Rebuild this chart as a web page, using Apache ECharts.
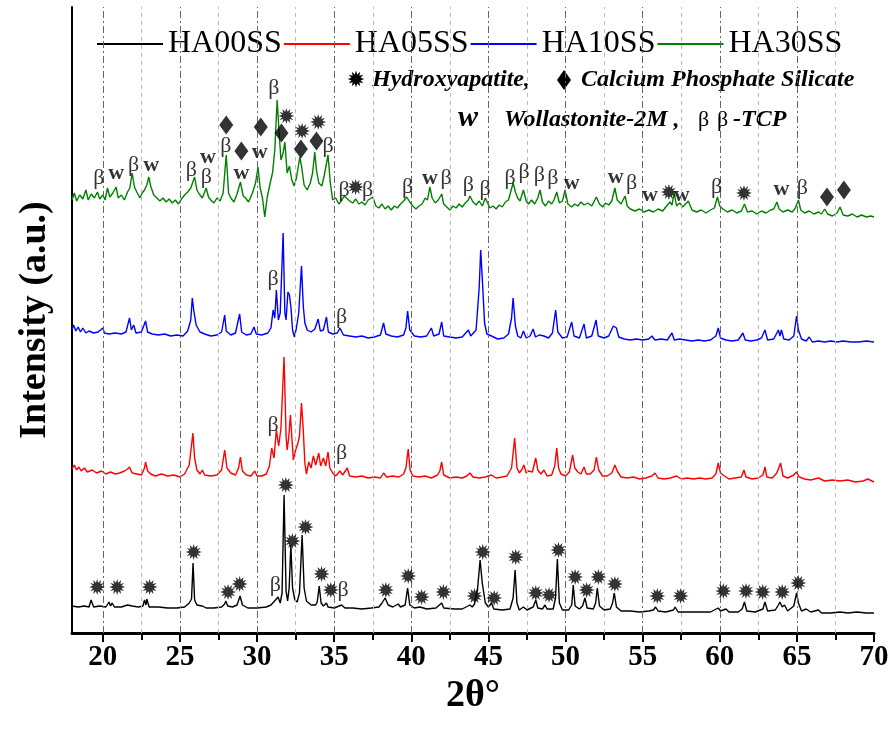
<!DOCTYPE html>
<html>
<head>
<meta charset="utf-8">
<script src="https://cdn.jsdelivr.net/npm/echarts@6.0.0/dist/echarts.min.js"></script>
<style>
  html, body { margin: 0; padding: 0; background: #fff; }
  #chart { width: 893px; height: 731px; }
</style>
</head>
<body>
<div id="chart"></div>
<script>
// XRD patterns, 2theta (deg) vs intensity (a.u.), each trace relative to its own baseline
var seriesNames = ['HA00SS', 'HA05SS', 'HA10SS', 'HA30SS'];
var seriesColors = ['#000000', '#ff0000', '#0000ff', '#008000'];
// vertical shift of each trace in the stacked plot
var offsets = [0, 135, 275, 405];

var ha00 = [
  [18.0,27],[18.4,26],[18.8,27],[19.1,26],[19.24,33],[19.4,26],[19.8,27],[20.2,26],[20.4,31],[20.5,27],[20.6,30],[20.75,26],
  [21.2,26],[21.6,28],[21.7,30],[21.9,27],[22.3,26],[22.6,27],[22.7,33],[22.8,28],[22.85,34],[23.0,26],[23.6,26],[24.2,25],
  [24.8,25],[25.3,26],[25.6,30],[25.75,34],[25.85,70],[25.95,33],[26.1,28],[26.45,27],[26.7,25],[27.2,25],[27.7,26],[27.9,29],
  [27.97,32],[28.1,27],[28.4,26],[28.7,28],[28.9,37],[29.05,28],[29.4,25],[30.0,25],[30.6,26],[30.9,28],[31.08,31],[31.2,29],
  [31.36,36],[31.5,30],[31.62,40],[31.75,138],[31.88,42],[31.98,32],[32.08,45],[32.19,88],[32.3,45],[32.45,33],[32.6,31],
  [32.75,40],[32.92,98],[33.05,45],[33.2,32],[33.5,28],[33.8,28],[33.9,31],[34.03,47],[34.15,30],[34.3,27],[34.5,30],[34.6,26],
  [35.0,25],[35.48,28],[35.7,25],[36.2,25],[36.8,24],[37.4,25],[37.9,26],[38.1,30],[38.3,35],[38.5,28],[38.8,26],[39.15,29],
  [39.3,26],[39.6,28],[39.76,45],[39.9,28],[40.2,25],[40.56,26],[41.0,24],[41.6,25],[41.97,30],[42.1,25],[42.8,24],[43.3,24],
  [43.8,28],[43.95,26],[44.1,29],[44.3,45],[44.46,73],[44.6,50],[44.8,30],[45.0,26],[45.2,30],[45.35,24],[45.9,23],[46.4,24],
  [46.6,35],[46.73,63],[46.85,30],[47.0,23],[47.27,26],[47.5,23],[47.9,26],[48.07,33],[48.2,25],[48.5,24],[48.67,28],[48.8,24],
  [49.2,24],[49.35,35],[49.47,74],[49.6,30],[49.8,23],[50.2,23],[50.4,28],[50.5,48],[50.62,27],[50.9,24],[51.1,27],[51.26,35],
  [51.4,25],[51.8,24],[51.95,30],[52.06,45],[52.2,27],[52.5,23],[52.9,24],[53.05,30],[53.16,40],[53.3,26],[53.6,22],[54.2,22],
  [54.8,21],[55.4,22],[55.7,23],[55.84,26],[56.0,22],[56.5,21],[57.0,23],[57.1,26],[57.3,21],[58.0,21],[58.7,21],[59.4,21],
  [59.9,25],[60.05,22],[60.4,24],[60.6,21],[61.2,21],[61.45,24],[61.6,31],[61.75,22],[62.3,21],[62.8,24],[62.93,31],[63.1,22],
  [63.6,23],[63.8,28],[63.9,31],[64.05,26],[64.2,28],[64.4,22],[64.8,27],[64.98,40],[65.1,30],[65.3,22],[65.6,24],[65.9,21],
  [66.4,23],[66.6,20],[67.2,20],[67.8,21],[68.3,20],[68.9,21],[69.5,20],[70.0,20]
];

var ha05 = [
  [18.0,29],[18.15,33],[18.3,28],[18.45,31],[18.6,27],[18.8,30],[19.0,26],[19.3,28],[19.6,25],[19.9,27],[20.2,24],[20.5,26],
  [20.8,24],[21.1,25],[21.4,27],[21.6,29],[21.73,31],[21.9,25],[22.2,24],[22.5,23],[22.7,30],[22.77,36],[22.9,27],[23.1,24],
  [23.4,22],[23.8,24],[24.2,22],[24.6,23],[25.0,21],[25.3,24],[25.6,33],[25.84,65],[25.95,40],[26.1,28],[26.3,24],[26.45,28],
  [26.6,23],[27.0,22],[27.4,23],[27.7,28],[27.9,48],[28.05,30],[28.3,25],[28.6,23],[28.8,30],[28.92,41],[29.05,27],[29.3,23],
  [29.6,22],[29.85,27],[30.0,22],[30.3,22],[30.6,24],[30.8,32],[30.95,50],[31.1,40],[31.25,68],[31.4,52],[31.55,70],[31.75,141],
  [31.88,62],[31.95,48],[32.05,60],[32.16,83],[32.28,55],[32.35,38],[32.5,48],[32.65,55],[32.75,62],[32.88,95],[32.98,72],
  [33.1,35],[33.2,24],[33.35,36],[33.5,30],[33.65,42],[33.8,33],[34.0,45],[34.12,32],[34.3,40],[34.45,32],[34.6,46],[34.72,30],
  [34.9,25],[35.1,22],[35.37,27],[35.55,23],[35.85,30],[36.0,22],[36.4,21],[36.8,22],[37.2,20],[37.6,21],[38.0,20],[38.2,25],
  [38.4,21],[38.8,22],[39.2,21],[39.5,24],[39.65,30],[39.8,49],[39.92,28],[40.1,22],[40.5,21],[40.9,22],[41.3,20],[41.7,23],
  [41.85,27],[41.97,36],[42.1,23],[42.5,20],[42.9,21],[43.3,20],[43.6,22],[43.8,25],[44.0,21],[44.4,20],[44.8,21],[45.2,23],
  [45.5,20],[45.9,21],[46.2,22],[46.5,30],[46.7,60],[46.85,30],[47.0,25],[47.15,28],[47.3,33],[47.45,25],[47.6,27],[47.85,26],
  [48.07,40],[48.2,28],[48.4,24],[48.6,28],[48.8,22],[49.1,23],[49.3,32],[49.43,50],[49.55,30],[49.7,24],[50.0,22],[50.25,26],
  [50.46,43],[50.6,30],[50.8,26],[51.0,24],[51.2,31],[51.35,24],[51.6,24],[51.85,28],[52.0,41],[52.15,28],[52.4,22],[52.7,22],
  [53.0,25],[53.2,33],[53.35,27],[53.6,21],[54.0,20],[54.4,21],[54.8,19],[55.2,20],[55.6,22],[55.8,25],[56.0,20],[56.4,19],
  [56.8,20],[57.2,22],[57.5,19],[57.9,20],[58.3,19],[58.7,20],[59.1,19],[59.5,20],[59.75,24],[59.9,35],[60.05,25],[60.3,22],
  [60.6,19],[61.0,20],[61.4,21],[61.57,28],[61.7,21],[62.1,19],[62.5,20],[62.8,23],[62.93,31],[63.05,21],[63.4,20],[63.7,25],
  [63.94,35],[64.1,22],[64.4,20],[64.8,23],[64.98,26],[65.15,21],[65.5,19],[65.9,18],[66.4,20],[66.8,17],[67.3,18],[67.8,17],
  [68.3,18],[68.8,16],[69.3,17],[69.6,19],[70.0,16]
];

var ha10 = [
  [18.0,28],[18.1,33],[18.25,27],[18.4,31],[18.55,26],[18.7,30],[18.9,25],[19.1,27],[19.4,25],[19.7,26],[20.0,30],[20.1,25],
  [20.4,24],[20.8,25],[21.2,24],[21.5,26],[21.73,40],[21.85,28],[22.0,33],[22.15,25],[22.5,26],[22.77,37],[22.9,26],[23.2,24],
  [23.6,23],[24.0,24],[24.4,22],[24.8,23],[25.2,22],[25.5,27],[25.7,38],[25.8,60],[25.9,47],[26.05,33],[26.3,26],[26.6,24],
  [27.0,22],[27.4,23],[27.7,26],[27.9,43],[28.0,27],[28.3,23],[28.6,25],[28.87,44],[29.0,26],[29.3,23],[29.6,24],[29.8,31],
  [29.95,24],[30.3,23],[30.7,25],[30.9,30],[31.04,48],[31.15,40],[31.25,68],[31.38,38],[31.5,45],[31.69,125],[31.8,45],
  [31.88,38],[32.0,66],[32.1,63],[32.2,50],[32.3,28],[32.42,21],[32.55,30],[32.7,45],[32.88,92],[33.0,51],[33.1,35],[33.25,28],
  [33.5,26],[33.75,29],[33.96,39],[34.1,27],[34.3,28],[34.5,41],[34.62,26],[34.9,24],[35.2,25],[35.37,30],[35.6,23],[36.0,22],
  [36.4,21],[36.8,22],[37.2,20],[37.6,21],[38.0,23],[38.2,35],[38.35,24],[38.7,22],[39.1,21],[39.5,23],[39.65,30],[39.76,47],
  [39.9,28],[40.2,22],[40.6,21],[41.0,22],[41.3,30],[41.45,22],[41.8,24],[41.97,36],[42.1,22],[42.5,21],[42.9,20],[43.3,21],
  [43.7,28],[43.85,22],[44.2,28],[44.4,70],[44.5,108],[44.6,80],[44.75,35],[44.9,24],[45.2,22],[45.6,19],[46.0,20],[46.3,24],
  [46.5,40],[46.6,60],[46.75,32],[46.9,22],[47.1,20],[47.27,27],[47.45,20],[47.7,22],[47.9,29],[48.05,21],[48.3,23],[48.6,22],
  [48.9,20],[49.15,25],[49.36,48],[49.5,26],[49.8,20],[50.1,21],[50.4,36],[50.55,22],[50.9,20],[51.2,34],[51.35,20],[51.7,22],
  [51.98,38],[52.12,22],[52.5,20],[52.8,22],[53.1,32],[53.3,30],[53.45,21],[53.8,19],[54.2,18],[54.6,19],[55.0,18],[55.4,19],
  [55.6,22],[55.8,18],[56.2,19],[56.6,18],[56.9,25],[57.05,18],[57.4,19],[57.8,18],[58.2,17],[58.6,18],[59.0,17],[59.4,18],
  [59.75,22],[59.9,30],[60.05,20],[60.4,18],[60.8,17],[61.2,18],[61.5,25],[61.65,18],[62.0,17],[62.4,18],[62.7,20],[62.93,28],
  [63.1,18],[63.5,19],[63.8,28],[63.9,22],[64.0,28],[64.15,19],[64.5,18],[64.8,22],[64.98,42],[65.1,28],[65.3,19],[65.6,17],
  [65.8,21],[66.0,16],[66.4,17],[66.8,16],[67.2,17],[67.6,16],[68.0,17],[68.5,16],[69.0,16],[69.5,17],[70.0,16]
];

var ha30 = [
  [18.0,28],[18.15,35],[18.3,27],[18.5,33],[18.7,29],[18.9,38],[19.05,28],[19.25,34],[19.45,30],[19.65,36],[19.8,29],[20.0,33],
  [20.15,28],[20.3,40],[20.45,31],[20.65,35],[20.86,41],[21.0,30],[21.2,33],[21.4,28],[21.6,36],[21.75,40],[21.9,55],[22.05,41],
  [22.2,36],[22.4,30],[22.55,35],[22.7,38],[22.85,43],[22.98,51],[23.1,42],[23.3,33],[23.5,30],[23.7,27],[23.9,30],[24.1,26],
  [24.3,29],[24.5,25],[24.7,28],[24.9,24],[25.1,29],[25.3,33],[25.5,36],[25.7,40],[25.95,51],[26.1,38],[26.25,34],[26.45,30],
  [26.7,40],[26.85,31],[27.0,28],[27.2,25],[27.4,30],[27.6,27],[27.8,35],[28.0,73],[28.15,35],[28.3,30],[28.5,26],[28.7,34],
  [28.92,46],[29.1,32],[29.25,30],[29.45,26],[29.7,35],[29.9,45],[30.06,61],[30.2,40],[30.35,30],[30.5,11],[30.65,30],[30.85,45],
  [31.0,55],[31.15,78],[31.3,128],[31.45,90],[31.55,68],[31.69,75],[31.8,86],[31.95,55],[32.1,62],[32.25,48],[32.4,42],[32.55,50],
  [32.77,71],[32.9,60],[33.05,43],[33.25,38],[33.45,45],[33.6,55],[33.74,76],[33.85,58],[34.0,45],[34.2,42],[34.35,52],[34.6,73],
  [34.75,45],[34.9,28],[35.1,30],[35.3,24],[35.5,28],[35.65,32],[35.8,30],[36.0,27],[36.2,25],[36.4,29],[36.6,24],[36.8,26],
  [37.0,23],[37.2,28],[37.5,31],[37.7,22],[37.9,20],[38.1,24],[38.3,19],[38.5,22],[38.7,18],[38.9,22],[39.1,20],[39.3,24],
  [39.5,27],[39.7,31],[39.9,26],[40.1,22],[40.3,19],[40.5,22],[40.7,24],[40.9,30],[41.05,28],[41.2,41],[41.35,30],[41.55,25],
  [41.75,28],[41.97,34],[42.1,24],[42.3,21],[42.5,18],[42.7,22],[42.9,20],[43.1,24],[43.3,21],[43.5,25],[43.7,28],[43.8,32],
  [44.0,26],[44.2,23],[44.4,27],[44.6,22],[44.8,30],[44.95,25],[45.1,20],[45.3,22],[45.5,19],[45.7,23],[45.9,21],[46.1,26],
  [46.3,28],[46.6,45],[46.75,36],[46.9,30],[47.05,27],[47.27,38],[47.45,27],[47.6,24],[47.8,28],[48.0,24],[48.2,30],[48.35,38],
  [48.5,26],[48.7,22],[48.9,27],[49.1,24],[49.25,28],[49.43,36],[49.6,25],[49.8,27],[49.97,38],[50.15,24],[50.4,21],[50.6,24],
  [50.8,22],[51.0,26],[51.2,23],[51.45,25],[51.7,22],[52.0,31],[52.2,24],[52.4,21],[52.6,25],[52.8,23],[53.0,27],[53.2,40],
  [53.35,28],[53.6,24],[53.86,32],[54.0,22],[54.2,19],[54.5,17],[54.8,19],[55.1,16],[55.4,18],[55.7,16],[56.0,19],[56.3,17],
  [56.5,21],[56.77,26],[56.9,23],[57.05,35],[57.2,22],[57.4,25],[57.6,21],[57.96,27],[58.2,18],[58.5,16],[58.8,18],[59.1,15],
  [59.4,18],[59.65,20],[59.85,31],[60.0,22],[60.2,19],[60.5,16],[60.8,18],[61.1,15],[61.4,17],[61.6,24],[61.8,16],[62.1,17],
  [62.4,14],[62.7,17],[63.0,15],[63.3,18],[63.5,19],[63.7,26],[63.85,19],[64.1,16],[64.4,18],[64.7,16],[64.9,20],[65.1,28],
  [65.25,18],[65.5,15],[65.8,17],[66.1,14],[66.4,16],[66.6,14],[66.8,19],[67.0,14],[67.3,12],[67.6,15],[67.8,21],[68.0,13],
  [68.3,12],[68.6,14],[68.9,11],[69.2,13],[69.5,11],[69.8,12],[70.0,11]
];

// phase markers, placed in plot units (2theta, stacked intensity)
var hapMarks = [
  [19.63,46],[20.93,46],[23.03,46],[25.89,81],[28.12,41],[28.87,49],[31.86,148],[32.29,92],[33.14,106],[34.18,59],[34.78,43],
  [38.35,43],[39.8,57],[40.67,36],[42.08,41],[44.1,37],[44.63,81],[45.37,35],[46.77,76],[48.07,40],[48.93,38],[49.54,83],
  [50.62,56],[51.37,43],[52.13,56],[53.2,49],[55.95,37],[57.46,37],[60.23,42],[61.7,42],[62.78,41],[64.05,41],[65.09,50],
  [31.9,517],[32.92,502],[33.96,511],[36.39,446],[56.7,441],[61.57,440]
];
var cpsMarks = [[28.0,508],[28.98,482],[30.24,506],[31.58,500],[32.84,484],[33.85,492],[66.95,436],[68.05,443]];
var wollMarks = [[20.87,460],[23.14,468],[26.82,476],[28.98,460],[30.17,481],[41.21,455],[50.4,450],[53.25,456],[55.48,438],[57.53,438],[64.0,444]];
var tcpMarks = [
  [19.74,455],[21.99,468],[25.74,463],[26.71,456],[27.97,487],[31.08,545],[34.6,487],[35.65,443],[37.16,443],[39.76,446],
  [42.25,455],[43.7,448],[44.78,444],[46.4,455],[47.31,461],[48.3,458],[49.17,455],[54.29,450],[59.8,446],[65.35,445],
  [31.04,354],[35.48,316],[31.04,208],[35.48,180],[31.19,48],[35.58,43]
];

var majorTicks = [20, 25, 30, 35, 40, 45, 50, 55, 60, 65, 70];
var minorTicks = [22.5, 27.5, 32.5, 37.5, 42.5, 47.5, 52.5, 57.5, 62.5, 67.5];

var serif = '"Liberation Serif", "Times New Roman", serif';

// 12-point starburst outline
function starPoints(cx, cy, r1, r2) {
  var pts = [];
  for (var i = 0; i < 24; i++) {
    var r = i % 2 ? r2 : r1;
    var a = Math.PI * i / 12 - Math.PI / 2;
    pts.push([cx + r * Math.cos(a), cy + r * Math.sin(a)]);
  }
  return pts;
}
var STAR = 'path://' + starPoints(0, 0, 10, 5.5).map(function (p, i) {
  return (i ? 'L' : 'M') + p[0].toFixed(2) + ' ' + p[1].toFixed(2);
}).join('') + 'Z';

function shift(data, off) {
  return data.map(function (p) { return [p[0], p[1] + off]; });
}

var traces = [ha00, ha05, ha10, ha30];
var series = traces.map(function (d, i) {
  return {
    name: seriesNames[i],
    type: 'line',
    data: shift(d, offsets[i]),
    symbol: 'none',
    lineStyle: { color: seriesColors[i], width: 1.4 },
    itemStyle: { color: seriesColors[i] },
    z: 3
  };
});

// dashed vertical guide lines
series[0].markLine = {
  silent: true,
  symbol: 'none',
  label: { show: false },
  data: majorTicks.slice(0, -1).map(function (v) {
    return { xAxis: v, lineStyle: { color: '#666', type: [7, 3, 2, 3], width: 1 } };
  }).concat(minorTicks.map(function (v) {
    return { xAxis: v, lineStyle: { color: '#bbb', type: [4, 4], width: 1 } };
  }))
};

series.push({
  name: 'hap', type: 'scatter', data: hapMarks, symbol: STAR, symbolSize: 16,
  itemStyle: { color: '#000' }, z: 5
});
series.push({
  name: 'cps', type: 'scatter', data: cpsMarks, symbol: 'diamond', symbolSize: [14, 19],
  itemStyle: { color: '#000' }, z: 5
});
series.push({
  name: 'woll', type: 'scatter', data: wollMarks, symbolSize: 1,
  itemStyle: { color: 'rgba(0,0,0,0)' }, z: 5,
  label: { show: true, position: 'inside', formatter: 'w', color: '#000', fontFamily: serif, fontWeight: 'bold', fontSize: 22 }
});
series.push({
  name: 'tcp', type: 'scatter', data: tcpMarks, symbolSize: 1,
  itemStyle: { color: 'rgba(0,0,0,0)' }, z: 5,
  label: { show: true, position: 'inside', formatter: 'β', color: '#000', fontFamily: serif, fontSize: 22 }
});

var keyFont = 'italic bold 24px ' + serif;
var option = {
  backgroundColor: '#fff',
  animation: false,
  grid: { left: 72, right: 19, top: 7, bottom: 98 },
  legend: {
    data: seriesNames,
    left: 92, top: 23,
    icon: 'rect', itemWidth: 66, itemHeight: 2, itemGap: 2,
    textStyle: { fontFamily: serif, fontSize: 32, color: '#000' }
  },
  xAxis: [{
    type: 'value', min: 18, max: 70,
    name: '2θ°', nameLocation: 'middle', nameGap: 31,
    nameTextStyle: { fontFamily: serif, fontWeight: 'bold', fontSize: 38, color: '#000' },
    axisLine: { show: true, onZero: false, lineStyle: { color: '#000', width: 3 } },
    axisTick: { show: true, customValues: majorTicks, length: 9, lineStyle: { color: '#000', width: 2 } },
    axisLabel: { customValues: majorTicks, margin: 10, fontFamily: serif, fontWeight: 'bold', fontSize: 29, color: '#000' },
    splitLine: { show: false }
  }, {
    type: 'value', min: 18, max: 70, position: 'bottom',
    axisLine: { show: false },
    axisTick: { show: true, customValues: minorTicks, length: 7, lineStyle: { color: '#000', width: 2 } },
    axisLabel: { show: false },
    splitLine: { show: false }
  }],
  yAxis: {
    type: 'value', min: 0, max: 626,
    name: 'Intensity (a.u.)', nameLocation: 'middle', nameGap: 18,
    nameTextStyle: { fontFamily: serif, fontWeight: 'bold', fontSize: 38, color: '#000' },
    axisLine: { show: true, lineStyle: { color: '#000', width: 2 } },
    axisTick: { show: false },
    axisLabel: { show: false },
    splitLine: { show: false }
  },
  graphic: [
    { type: 'polygon', shape: { points: starPoints(356, 79, 8.5, 4.7) }, style: { fill: '#000' } },
    { type: 'text', x: 372, y: 80, style: { text: 'Hydroxyapatite,', font: keyFont, fill: '#000', verticalAlign: 'middle' } },
    { type: 'polygon', shape: { points: [[564, 70], [571, 80], [564, 90], [557, 80]] }, style: { fill: '#000' } },
    { type: 'text', x: 581, y: 80, style: { text: 'Calcium Phosphate Silicate', font: keyFont, fill: '#000', verticalAlign: 'middle' } },
    { type: 'text', x: 458, y: 118, style: { text: 'w', font: 'italic bold 30px ' + serif, fill: '#000', verticalAlign: 'middle' } },
    { type: 'text', x: 504, y: 120, style: { text: 'Wollastonite-2M ,', font: keyFont, fill: '#000', verticalAlign: 'middle' } },
    { type: 'text', x: 698, y: 120, style: { text: 'β', font: '22px ' + serif, fill: '#000', verticalAlign: 'middle' } },
    { type: 'text', x: 717, y: 120, style: { text: 'β', font: '22px ' + serif, fill: '#000', verticalAlign: 'middle' } },
    { type: 'text', x: 733, y: 120, style: { text: '-TCP', font: keyFont, fill: '#000', verticalAlign: 'middle' } }
  ],
  series: series
};

var myChart = echarts.init(document.getElementById('chart'));
myChart.setOption(option);
</script>
</body>
</html>
